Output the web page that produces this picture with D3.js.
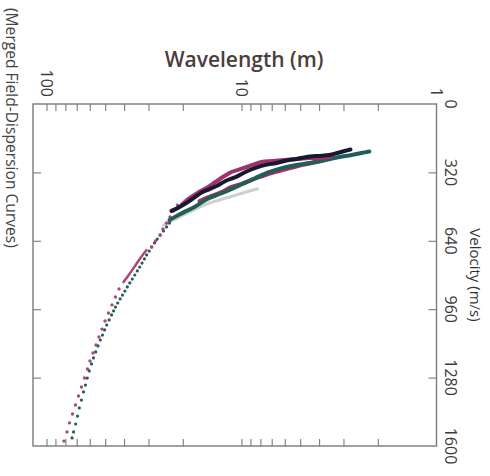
<!DOCTYPE html>
<html><head><meta charset="utf-8">
<script src="https://cdn.jsdelivr.net/npm/d3@7"></script>
<style>body{margin:0;background:#fff}svg{display:block}</style>
</head><body>
<svg id="c" width="490" height="476"></svg>
<script>
// ---- data: [wavelength (m), velocity (m/s)] ----
const blackLine = [[22.86,500],[21.29,487],[19.38,466],[17.63,440],[15.85,412],[14.59,398],[13.44,384],[12.08,360],[10.73,342],[9.54,318],[8.48,299],[7.53,285],[6.61,276],[5.88,264],[5.22,257],[4.64,248],[4.08,243],[3.54,239],[3.22,229],[2.96,220],[2.76,213]];
const tealLine = [[23.4,543],[21.29,522],[19.15,500],[17.42,482],[15.85,458],[14.59,440],[12.97,421],[11.52,402],[9.88,374],[8.48,346],[7.18,318],[6.16,299],[5.22,285],[4.48,276],[4.12,269],[3.62,260],[3.14,248],[2.73,239],[2.42,229],[2.21,222]];
const magentaUpper = [[20.31,472],[18.48,440],[16.81,416],[15.12,393],[13.6,365],[12.23,337],[11.25,318],[10.24,306],[9.1,290],[7.9,271],[6.93,267],[6.02,262],[5.16,257],[4.48,253],[3.89,253],[3.42,243]];
const magentaLower = [[16.42,454],[14.25,430],[12.66,412],[11.25,388],[10.0,374],[8.89,356],[7.9,339],[7.02,323],[6.16,309],[5.47,297],[4.87,285],[4.32,276],[3.89,267],[3.46,253]];
const grayLine = [[25.12,566],[22.86,547],[20.8,529],[18.48,505],[16.42,482],[14.59,463],[12.97,449],[11.52,435],[10.24,421],[9.1,407],[8.28,398]];
const magentaSegment = [[30.71,683],[32.96,720],[35.17,758],[37.53,795],[40.29,833]];
const magentaDots = [[21.29,473],[22.32,501],[23.26,529],[24.24,557],[25.27,585],[26.18,613],[27.61,641],[28.94,669],[42.48,865],[44.29,903],[46.15,940],[48.10,978],[50.12,1015],[51.94,1053],[53.81,1090],[55.76,1127],[57.77,1165],[59.85,1202],[61.63,1240],[63.86,1282],[66.16,1324],[68.53,1366],[71.01,1408],[73.56,1450],[76.22,1492],[78.52,1534],[81.35,1577]];
const tealDots = [[23.4,557],[24.24,575],[25.15,594],[26.09,613],[27.03,632],[27.94,650],[28.84,669],[29.74,688],[30.64,706],[31.47,725],[32.37,744],[33.27,763],[34.22,781],[35.26,800],[36.31,819],[37.39,837],[38.51,856],[39.62,875],[40.76,894],[41.94,912],[43.14,931],[44.29,950],[45.29,968],[46.38,987],[47.75,1010],[49.13,1034],[50.36,1057],[51.63,1081],[52.99,1104],[54.44,1132],[55.94,1160],[57.41,1188],[58.78,1216],[60.39,1249],[61.77,1282],[63.17,1315],[64.61,1347],[66.22,1385],[67.88,1422],[69.34,1460],[70.84,1497],[72.61,1534],[73.99,1562]];

const wavelengthMinorTicks = [100,90,80,70,60,50,40,30,20,10,9,8,7,6,5,4,3,2];
const wavelengthLabels = [100,10,1];
const velocityTicks = [0,320,640,960,1280,1600];

// ---- layout ----
const svg = d3.select("#c");
const pL = 33, pR = 436.5, pT = 104, pB = 446;
const x = d3.scaleLog().domain([100,1]).range([46.5,436.5]);
const y = d3.scaleLinear().domain([0,1600]).range([pT,pB]);
const axisColor = "#7b7b7b";
const font = "'Open Sans', 'Noto Sans', sans-serif";

svg.append("rect").attr("width",490).attr("height",476).attr("fill","#fff");

// axes (ticks inward)
svg.append("g").attr("transform",`translate(0,${pT})`)
  .call(d3.axisBottom(x).tickValues(wavelengthMinorTicks).tickSize(7).tickFormat(""))
  .call(g=>g.select(".domain").remove());
svg.append("g").attr("transform",`translate(0,${pB})`)
  .call(d3.axisTop(x).tickValues(wavelengthMinorTicks).tickSize(7).tickFormat(""))
  .call(g=>g.select(".domain").remove());
svg.append("g").attr("transform",`translate(${pL},0)`)
  .call(d3.axisRight(y).tickValues(velocityTicks.slice(1,-1)).tickSize(8).tickFormat(""))
  .call(g=>g.select(".domain").remove());
svg.append("g").attr("transform",`translate(${pR},0)`)
  .call(d3.axisLeft(y).tickValues(velocityTicks.slice(1,-1)).tickSize(8).tickFormat(""))
  .call(g=>g.select(".domain").remove());
svg.selectAll(".tick line").attr("stroke",axisColor).attr("stroke-width",1.1);

svg.append("rect").attr("x",pL).attr("y",pT).attr("width",pR-pL).attr("height",pB-pT)
  .attr("fill","none").attr("stroke",axisColor).attr("stroke-width",1.4);

// tick labels
svg.append("g").selectAll("text").data(wavelengthLabels).join("text")
  .attr("transform",d=>`translate(${x(d)},97) rotate(90)`)
  .attr("text-anchor","end").attr("dominant-baseline","central")
  .attr("font-family",font).attr("font-size",16).attr("fill","#3a3a3a")
  .text(d=>d);
svg.append("g").selectAll("text").data(velocityTicks).join("text")
  .attr("transform",d=>`translate(451,${y(d)}) rotate(90)`)
  .attr("text-anchor","middle").attr("dominant-baseline","central")
  .attr("font-family",font).attr("font-size",16).attr("fill","#3a3a3a")
  .text(d=>d);

// titles
svg.append("text").attr("x",244).attr("y",67).attr("text-anchor","middle")
  .attr("font-family",font).attr("font-size",21).attr("font-weight",600).attr("fill","#4a3d3d")
  .text("Wavelength (m)");
svg.append("text").attr("transform","translate(476,275) rotate(90)").attr("text-anchor","middle")
  .attr("dominant-baseline","central")
  .attr("font-family",font).attr("font-size",15).attr("fill","#333")
  .text("Velocity (m/s)");
svg.append("text").attr("transform","translate(12,8) rotate(90)").attr("text-anchor","start")
  .attr("dominant-baseline","central")
  .attr("font-family",font).attr("font-size",15.6).attr("fill","#444")
  .text("(Merged Field-Dispersion Curves)");

// data marks
const line = d3.line().x(d=>x(d[0])).y(d=>y(d[1])).curve(d3.curveCatmullRom);
const plot = svg.append("g");
function drawLine(data,color,w){
  plot.append("path").datum(data).attr("d",line).attr("fill","none")
    .attr("stroke",color).attr("stroke-width",w).attr("stroke-linecap","round").attr("stroke-linejoin","round");
}
function drawDots(data,color,r){
  plot.append("g").selectAll("circle").data(data).join("circle")
    .attr("cx",d=>x(d[0])).attr("cy",d=>y(d[1])).attr("r",r).attr("fill",color);
}
drawLine(grayLine,"#cfcfcf",3);
drawDots(tealDots,"#1f5f58",1.6);
drawDots(magentaDots,"#b4437a",1.7);
drawLine(magentaSegment,"#b4437a",2.5);
drawLine(magentaLower,"#a3306a",4);
drawLine(tealLine,"#1e5f58",4);
drawLine(magentaUpper,"#a3306a",4);
drawLine(blackLine,"#161a30",4);
</script>
</body></html>
